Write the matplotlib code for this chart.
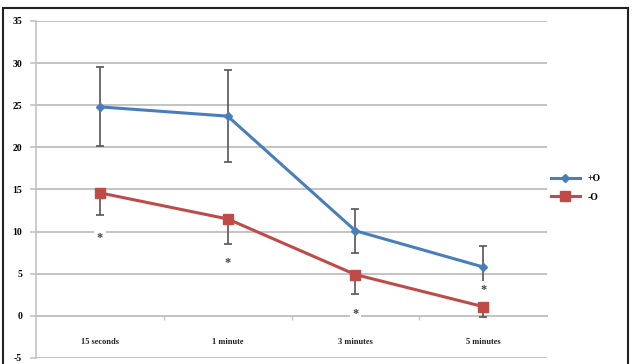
import matplotlib.pyplot as plt
from matplotlib.patches import Rectangle
import numpy as np

categories = ['15 seconds', '1 minute', '3 minutes', '5 minutes']
plus_o = [24.8, 23.7, 10.1, 5.8]
plus_o_err = [4.7, 5.5, 2.6, 2.5]
minus_o = [14.6, 11.5, 4.9, 1.1]
minus_o_err = [2.6, 3.0, 2.3, 1.2]
star_y = [9.7, 6.7, 0.6, 3.5]
yticks = [-5, 0, 5, 10, 15, 20, 25, 30, 35]

blue = '#4a7ebb'
red = '#be4b48'
grid = '#c3c3c3'
serif = ['Liberation Serif', 'DejaVu Serif']

fig = plt.figure(figsize=(6.34, 3.64), dpi=100)
ax = fig.add_axes([0.0568, 0.0165, 0.806, 0.926])
x = np.arange(len(categories))

ax.set_xlim(-0.5, 3.5)
ax.set_ylim(-5, 35)
ax.set_yticks(yticks)
ax.set_yticklabels([str(v) for v in yticks], family=serif, fontsize=7, fontweight='bold')
ax.yaxis.grid(True, color=grid, linewidth=1.4)
ax.set_axisbelow(True)
ax.tick_params(axis='y', length=4, color=grid, width=1.2, pad=6)

ax.spines['top'].set_visible(False)
ax.spines['right'].set_visible(False)
ax.spines['left'].set_color(grid)
ax.spines['left'].set_linewidth(1.2)
ax.spines['bottom'].set_position(('data', 0))
ax.spines['bottom'].set_color(grid)
ax.spines['bottom'].set_linewidth(1.4)
ax.set_xticks([0.5, 1.5, 2.5])
ax.set_xticklabels([])
ax.tick_params(axis='x', length=3, color=grid, width=1.0)

for xi, name in zip(x, categories):
    ax.text(xi, -3.1, name, ha='center', va='center', fontsize=6,
            fontweight='bold', family=serif, color='#222222')

ax.errorbar(x, plus_o, yerr=plus_o_err, fmt='none', ecolor='#555555',
            elinewidth=1.2, capsize=3, capthick=1.2, zorder=3)
ax.errorbar(x, minus_o, yerr=[minus_o_err, [0] * 4], fmt='none', ecolor='#555555',
            elinewidth=1.2, capsize=3, capthick=1.2, zorder=3)

ax.plot(x, plus_o, color=blue, linewidth=2.2, marker='D', markersize=4.5,
        label='+O', zorder=4)
ax.plot(x, minus_o, color=red, linewidth=2.2, marker='s', markersize=7,
        label='-O', zorder=4)

# significance marks, nudged down so the glyph sits on its level
for xi, yi in zip(x, star_y):
    ax.annotate('*', (xi, yi), xytext=(0, -2.5), textcoords='offset points',
                ha='center', va='center', fontsize=9, fontweight='bold',
                color='#444444', family=serif, zorder=5,
                bbox=dict(boxstyle='square,pad=0.2', fc='white', ec='none'))

leg = ax.legend(loc='center left', bbox_to_anchor=(0.99, 0.505), frameon=False,
                prop={'family': serif, 'size': 7, 'weight': 'bold'},
                handlelength=3.0, labelspacing=1.0, handletextpad=0.8)

fig.patches.append(Rectangle((0.005, -0.01), 0.986, 0.988, transform=fig.transFigure,
                             fill=False, edgecolor='#222222', linewidth=1.5))

fig.savefig('out.png', dpi=100)
